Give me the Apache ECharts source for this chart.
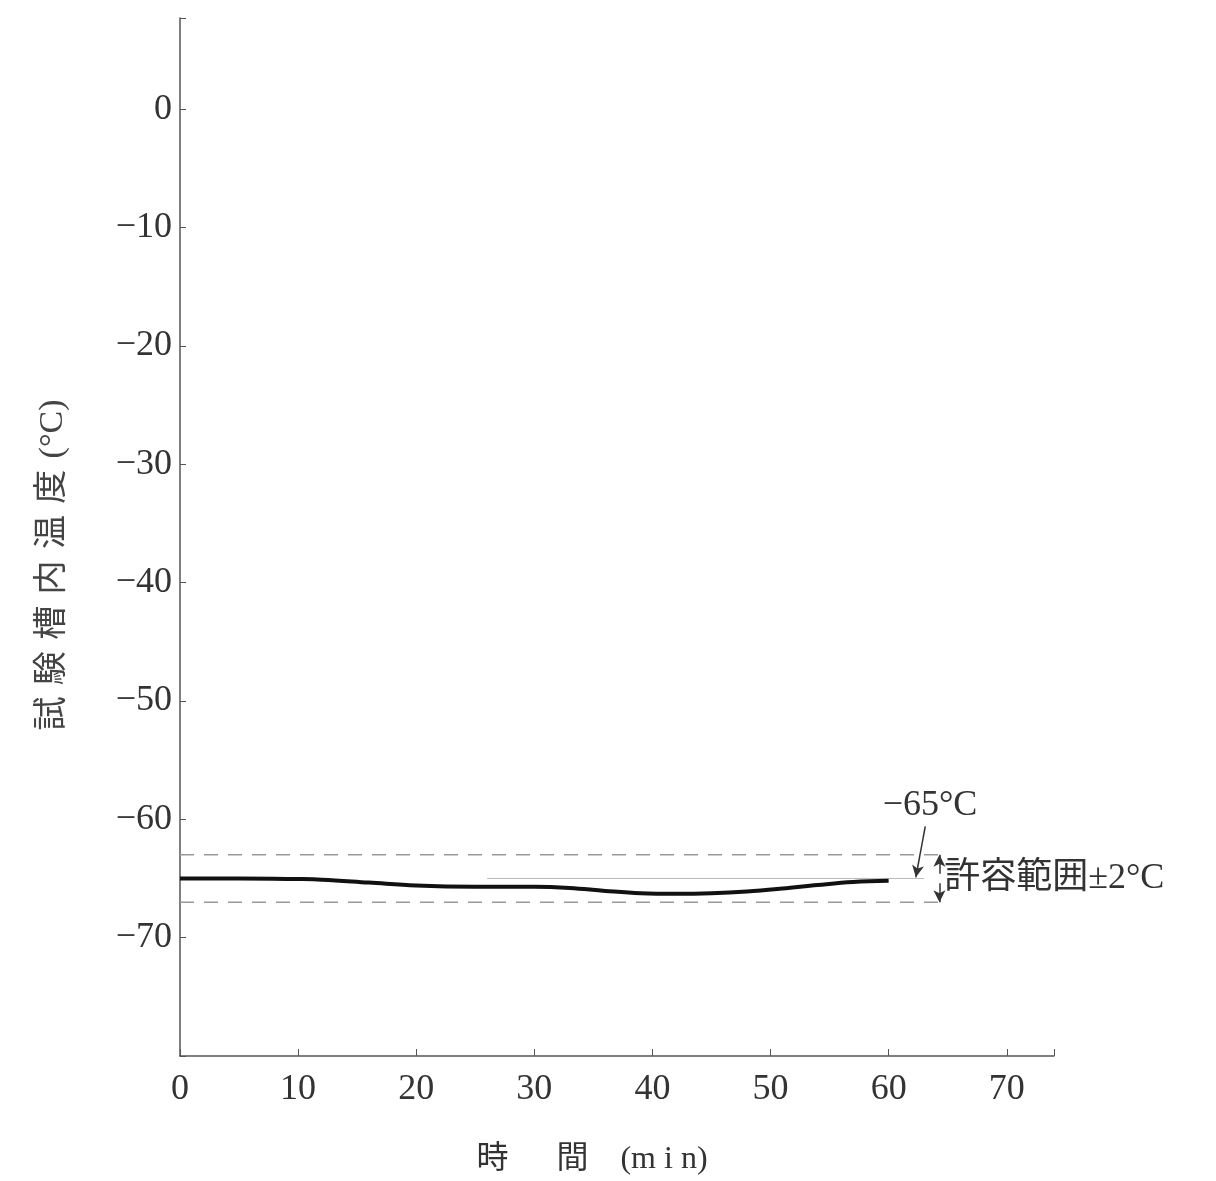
<!DOCTYPE html>
<html><head><meta charset="utf-8">
<script src="https://cdn.jsdelivr.net/npm/echarts@6/dist/echarts.min.js"></script>
<style>html,body{margin:0;padding:0;background:#fff}#c{width:1216px;height:1181px}</style>
</head><body><div id="c"></div>
<script>
// data
var timeMin = [0, 5, 10, 12, 16, 20, 25, 30, 33, 36, 39, 42, 45, 48, 51, 54, 57, 60];
var tempC   = [-65.0, -65.0, -65.05, -65.1, -65.35, -65.6, -65.7, -65.7, -65.8, -66.05, -66.25, -66.3, -66.25, -66.1, -65.85, -65.55, -65.3, -65.2];
var setPoint = -65;
var tolUpper = -63;
var tolLower = -67;
var tolRange = [0, 64.5];
var refRange = [26, 63];
var xTicks = [0, 10, 20, 30, 40, 50, 60, 70];
var yTicks = [0, -10, -20, -30, -40, -50, -60, -70];
var setLabel = '−65°C';
var tolLabel = '許容範囲±2°C';
var xName = '時\u3000\u2002間\u3000(m\u2005i\u2005n)';
var yName = '試\u2004験\u2004槽\u2004内\u2004温\u2004度\u2004(°C)';

var serif = "'Liberation Serif','DejaVu Serif',serif";
var cjk = "'Liberation Serif','Noto Sans CJK JP',serif";
var chart = echarts.init(document.getElementById('c'), null, {renderer: 'canvas'});

function fmtNum(v) {
  var r = Math.round(v);
  if (Math.abs(v - r) > 1e-6) return '';
  return r < 0 ? '−' + Math.abs(r) : String(r);
}

var option = {
  animation: false,
  backgroundColor: '#ffffff',
  grid: {left: 180, right: 162, top: 18, bottom: 121, containLabel: false},
  xAxis: {
    type: 'value', min: 0, max: 74, interval: 10,
    name: xName, nameLocation: 'middle', nameGap: 88,
    nameTextStyle: {fontFamily: cjk, fontSize: 32, color: '#333', padding: [0, 50, 0, 0]},
    axisLine: {show: true, onZero: false, lineStyle: {color: '#555', width: 1.5}},
    axisTick: {show: true, inside: true, length: 7, lineStyle: {color: '#555'}},
    splitLine: {show: false},
    axisLabel: {
      margin: 16, fontFamily: serif, fontSize: 36, color: '#333',
      formatter: function (v) { return xTicks.indexOf(v) >= 0 ? fmtNum(v) : ''; }
    }
  },
  yAxis: {
    type: 'value', min: -80, max: 7.7, interval: 10,
    name: yName, nameLocation: 'middle', nameGap: 110, nameRotate: 90,
    nameTextStyle: {fontFamily: cjk, fontSize: 34, color: '#444', padding: [0, 56, 0, 0]},
    axisLine: {show: true, onZero: false, lineStyle: {color: '#555', width: 1.5}},
    axisTick: {show: true, inside: true, length: 6, lineStyle: {color: '#555'}},
    splitLine: {show: false},
    axisLabel: {
      margin: 8, fontFamily: serif, fontSize: 36, color: '#333',
      formatter: function (v) { return yTicks.indexOf(v) >= 0 ? fmtNum(v) : ''; }
    }
  },
  series: [
    {
      type: 'line', name: 'upper', symbol: 'none', silent: true,
      data: [[tolRange[0], tolUpper], [tolRange[1], tolUpper]],
      lineStyle: {color: '#999', width: 1.5, type: [14, 10]}
    },
    {
      type: 'line', name: 'lower', symbol: 'none', silent: true,
      data: [[tolRange[0], tolLower], [tolRange[1], tolLower]],
      lineStyle: {color: '#999', width: 1.5, type: [14, 10]}
    },
    {
      type: 'line', name: 'ref', symbol: 'none', silent: true,
      data: [[refRange[0], setPoint], [refRange[1], setPoint]],
      lineStyle: {color: '#bbb', width: 1}
    },
    {
      type: 'line', name: 'temp', symbol: 'none', smooth: 0.4, silent: true,
      data: timeMin.map(function (t, i) { return [t, tempC[i]]; }),
      lineStyle: {color: '#111', width: 4},
      markLine: {
        silent: true, symbol: ['none', 'arrow'], symbolSize: [9, 12],
        label: {show: false},
        lineStyle: {color: '#333', width: 1.5, type: 'solid'},
        data: [
          [{coord: [64.3, -64.6]}, {coord: [64.3, tolUpper]}],
          [{coord: [64.3, -65.4]}, {coord: [64.3, tolLower]}],
          [{coord: [63.1, -60.6]}, {coord: [62.3, -64.9]}]
        ]
      }
    }
  ]
};
chart.setOption(option);

var p1 = chart.convertToPixel({gridIndex: 0}, [63.5, -58.8]);
var p2 = chart.convertToPixel({gridIndex: 0}, [64.7, setPoint]);
chart.setOption({
  graphic: [
    {type: 'text', x: p1[0], y: p1[1], style: {text: setLabel, font: '36px ' + serif, fill: '#333', align: 'center', verticalAlign: 'middle'}},
    {type: 'text', x: p2[0], y: p2[1], style: {text: tolLabel, font: '36px ' + cjk, fill: '#333', align: 'left', verticalAlign: 'middle'}}
  ]
});
</script>
</body></html>
